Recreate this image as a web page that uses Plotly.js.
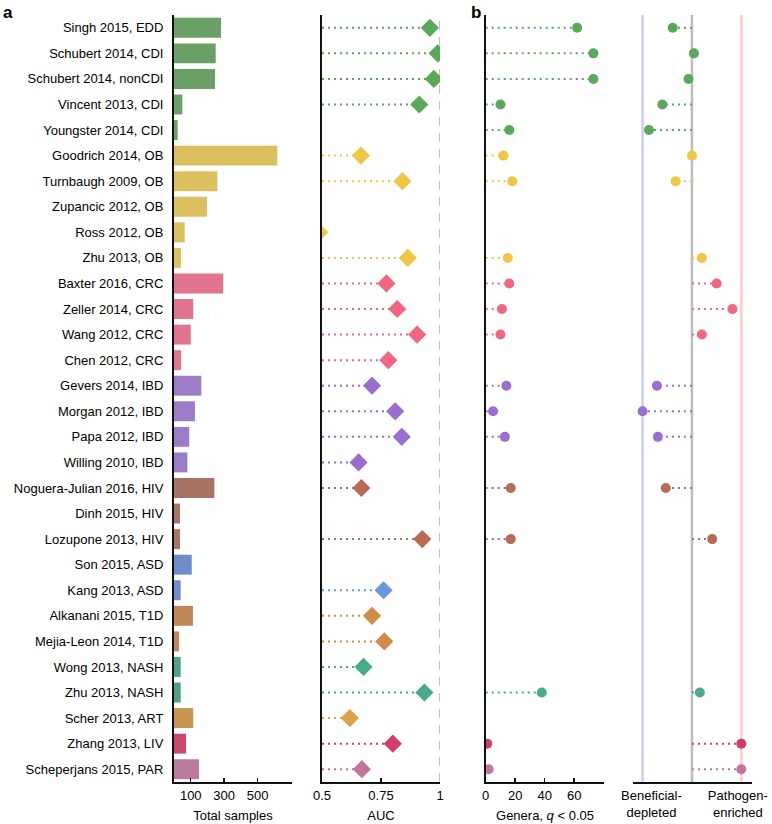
<!DOCTYPE html>
<html>
<head>
<meta charset="utf-8">
<script src="https://cdn.plot.ly/plotly-3.0.1.min.js"></script>
<style>html,body{margin:0;padding:0;background:#fff;}#chart{width:772px;height:824px;}</style>
</head>
<body>
<div id="chart"></div>
<script>
// ---------------- DATA ----------------
const studies = [
  "Singh 2015, EDD","Schubert 2014, CDI","Schubert 2014, nonCDI","Vincent 2013, CDI","Youngster 2014, CDI",
  "Goodrich 2014, OB","Turnbaugh 2009, OB","Zupancic 2012, OB","Ross 2012, OB","Zhu 2013, OB",
  "Baxter 2016, CRC","Zeller 2014, CRC","Wang 2012, CRC","Chen 2012, CRC",
  "Gevers 2014, IBD","Morgan 2012, IBD","Papa 2012, IBD","Willing 2010, IBD",
  "Noguera-Julian 2016, HIV","Dinh 2015, HIV","Lozupone 2013, HIV",
  "Son 2015, ASD","Kang 2013, ASD","Alkanani 2015, T1D","Mejia-Leon 2014, T1D",
  "Wong 2013, NASH","Zhu 2013, NASH","Scher 2013, ART","Zhang 2013, LIV","Scheperjans 2015, PAR"
];
const groups = [
  "CDI","CDI","CDI","CDI","CDI",
  "OB","OB","OB","OB","OB",
  "CRC","CRC","CRC","CRC",
  "IBD","IBD","IBD","IBD",
  "HIV","HIV","HIV",
  "ASD","ASD","T1D","T1D",
  "NASH","NASH","ART","LIV","PAR"
];
const totalSamples = [281,249,245,50,22, 617,259,197,64,42, 294,115,100,42, 163,125,91,80, 241,36,36, 106,40,113,30, 40,40,115,72,149];
const auc = [0.957,0.99,0.974,0.912,null, 0.665,0.841,null,0.488,0.863, 0.773,0.819,0.903,0.781, 0.712,0.81,0.838,0.655, 0.667,null,0.925, null,0.761,0.712,0.764, 0.676,0.934,0.618,0.8,0.669];
const genera = [62,73,73,10,16, 12,18,null,null,15, 16,11,10,null, 14,5,13,null, 17,null,17, null,null,null,null, null,38,null,1,2];
const direction = [-0.39,0.04,-0.07,-0.6,-0.87, 0.0,-0.33,null,null,0.2, 0.5,0.82,0.2,null, -0.71,-1.0,-0.69,null, -0.53,null,0.41, null,null,null,null, null,0.16,null,1.0,1.0];

const sampleTicks = [100,300,500];
const aucTicks = [0.5,0.75,1];
const aucTickText = ["0.5","0.75","1"];
const generaTicks = [0,20,40,60];
const dirLabelPos = [-0.82,0.93];
const dirLabels = ["Beneficial-<br>depleted","Pathogen-<br>enriched"];
const dirRefLines = [-1,0,1];

// ---------------- STYLE ----------------
const barColor = {CDI:"#6aa066",OB:"#dcc060",CRC:"#e2758d",IBD:"#9d7cc7",HIV:"#a87264",ASD:"#6f8ec9",T1D:"#bd8757",NASH:"#4ea385",ART:"#c99452",LIV:"#c94a6e",PAR:"#b97c9c"};
const markColor = {CDI:"#5aa85a",OB:"#f0c644",CRC:"#f2667f",IBD:"#9b6dd1",HIV:"#b96a54",ASD:"#6a98dc",T1D:"#d38c48",NASH:"#46ad86",ART:"#e0a248",LIV:"#d23d68",PAR:"#c2739e"};
const groupOrder = ["CDI","OB","CRC","IBD","HIV","ASD","T1D","NASH","ART","LIV","PAR"];
const FONT = "Liberation Sans, Arial, Helvetica, sans-serif";

function segTraces(vals, base, xa, ya, positiveOnly) {
  const out = [];
  groupOrder.forEach(g => {
    const xs = [], ys = [];
    vals.forEach((v, i) => {
      if (groups[i] !== g || v === null || v === base) return;
      if (positiveOnly && v < base) return;
      xs.push(base, v, null); ys.push(studies[i], studies[i], null);
    });
    if (xs.length) out.push({type:"scatter", mode:"lines", x:xs, y:ys, xaxis:xa, yaxis:ya,
      line:{color:markColor[g], width:2, dash:"2px,4px"}, hoverinfo:"skip", showlegend:false, connectgaps:false});
  });
  return out;
}
function markTrace(vals, symbol, size, xa, ya) {
  const xs = [], ys = [], cs = [];
  vals.forEach((v, i) => { if (v !== null) { xs.push(v); ys.push(studies[i]); cs.push(markColor[groups[i]]); } });
  return {type:"scatter", mode:"markers", x:xs, y:ys, xaxis:xa, yaxis:ya,
    marker:{symbol:symbol, size:size, color:cs, line:{width:0}}, hoverinfo:"skip", showlegend:false, cliponaxis:true};
}

const traces = [];
traces.push({type:"bar", orientation:"h", x:totalSamples, y:studies, xaxis:"x", yaxis:"y",
  marker:{color:groups.map(g => barColor[g]), line:{width:0}}, hoverinfo:"skip", showlegend:false});
traces.push(...segTraces(auc, 0.5, "x2", "y2", true));
traces.push(markTrace(auc, "diamond", 14, "x2", "y2"));
traces.push(...segTraces(genera, 0, "x3", "y3", false));
traces.push(markTrace(genera, "circle", 10, "x3", "y3"));
traces.push(...segTraces(direction, 0, "x4", "y4", false));
traces.push(markTrace(direction, "circle", 10, "x4", "y4"));

const W = 772, H = 824;
const yDom = [1 - 782/H, 1 - 15/H];
const yBase = {type:"category", categoryorder:"array", categoryarray:studies, range:[29.5,-0.5], domain:yDom,
  showgrid:false, zeroline:false, ticks:"", fixedrange:true};
const axisFont = {family:FONT, size:13, color:"#000"};
const xBase = {showgrid:false, zeroline:false, showline:true, linecolor:"#111", linewidth:2,
  ticks:"inside", ticklen:4, tickcolor:"#111", tickwidth:1.5, tickfont:axisFont, fixedrange:true};

const shapes = [];
shapes.push({type:"line", xref:"x2", yref:"paper", x0:1, x1:1, y0:yDom[0], y1:yDom[1], line:{color:"#c4c4c4", width:2, dash:"9px,7px"}, layer:"below"});
const refCols = ["#cbcbff","#bdbdbd","#ffcbcb"];
dirRefLines.forEach((v, k) => shapes.push({type:"line", xref:"x4", yref:"paper", x0:v, x1:v, y0:yDom[0], y1:yDom[1], line:{color:refCols[k], width:2.5}, layer:"below"}));

const layout = {
  width:W, height:H, margin:{l:0,r:0,t:0,b:0}, paper_bgcolor:"#fff", plot_bgcolor:"rgba(0,0,0,0)",
  font:{family:FONT, size:13, color:"#000"}, bargap:0.22, showlegend:false,
  xaxis: Object.assign({}, xBase, {domain:[174/W, 292/W], anchor:"y", range:[0,705], tickvals:sampleTicks,
    title:{text:"Total samples", font:axisFont, standoff:9}}),
  yaxis: Object.assign({}, yBase, {anchor:"x", showline:true, linecolor:"#111", linewidth:2, tickfont:axisFont, ticklabelstandoff:6}),
  xaxis2: Object.assign({}, xBase, {domain:[322/W, 440/W], anchor:"y2", range:[0.5,1.0], tickvals:aucTicks, ticktext:aucTickText,
    title:{text:"AUC", font:axisFont, standoff:9}}),
  yaxis2: Object.assign({}, yBase, {anchor:"x2", matches:"y", showline:true, linecolor:"#111", linewidth:2, showticklabels:false}),
  xaxis3: Object.assign({}, xBase, {domain:[485.7/W, 604.3/W], anchor:"y3", range:[0,80.4], tickvals:generaTicks,
    title:{text:"Genera, <i>q</i> &lt; 0.05", font:axisFont, standoff:9}}),
  yaxis3: Object.assign({}, yBase, {anchor:"x3", matches:"y", showline:true, linecolor:"#111", linewidth:2, showticklabels:false}),
  xaxis4: Object.assign({}, xBase, {domain:[632.7/W, 751.7/W], anchor:"y4", range:[-1.2,1.21], ticks:"", tickvals:dirLabelPos, ticktext:dirLabels}),
  yaxis4: Object.assign({}, yBase, {anchor:"x4", matches:"y", showline:false, showticklabels:false}),
  shapes: shapes,
  annotations: [
    {text:"<b>a</b>", xref:"paper", yref:"paper", x:1/W, y:1-1/H, xanchor:"left", yanchor:"top", showarrow:false, font:{family:FONT, size:17, color:"#000"}},
    {text:"<b>b</b>", xref:"paper", yref:"paper", x:469/W, y:1-1/H, xanchor:"left", yanchor:"top", showarrow:false, font:{family:FONT, size:17, color:"#000"}}
  ]
};
Plotly.newPlot("chart", traces, layout, {displayModeBar:false, staticPlot:true});
</script>
</body>
</html>
